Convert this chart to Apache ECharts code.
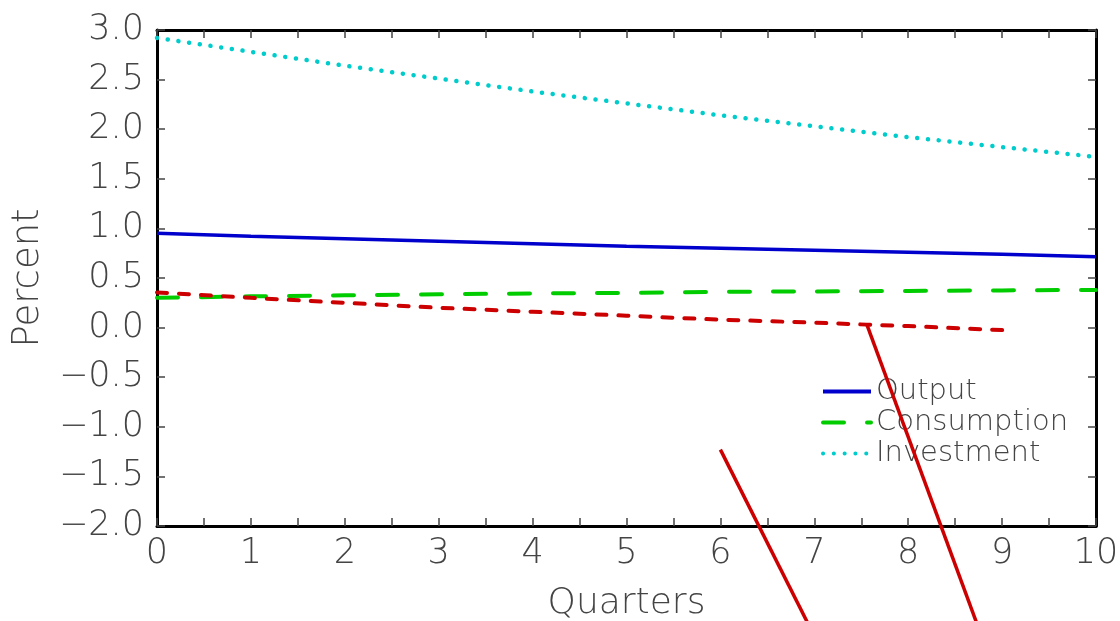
<!DOCTYPE html>
<html>
<head>
<meta charset="utf-8">
<script src="https://cdn.jsdelivr.net/npm/echarts@6/dist/echarts.min.js"></script>
<style>
html,body{margin:0;padding:0;background:#fff;}
#c{width:1120px;height:621px;}
</style>
</head>
<body>
<div id="c"></div>
<script>
const quarters = [0,1,2,3,4,5,6,7,8,9,10];
const output = [0.95,0.92,0.895,0.87,0.845,0.82,0.80,0.78,0.76,0.74,0.715];
const consumption = [0.30,0.315,0.325,0.335,0.345,0.35,0.36,0.365,0.37,0.375,0.38];
const investment = [2.92,2.78,2.64,2.51,2.38,2.26,2.14,2.03,1.92,1.82,1.72];
const redDashX = [0,1,2,3,4,5,6,7,7.56,8,9,9.1];
const redDashY = [0.355,0.30,0.25,0.20,0.16,0.12,0.08,0.05,0.03,0.015,-0.025,-0.03];
const redLineAX = [6.0,7.0];
const redLineAY = [-1.23,-3.11];
const redLineBX = [7.56,8.8];
const redLineBY = [0.03,-3.16];

const pairs = (xs, ys) => xs.map((x,i)=>[x, ys[i]]);
const FONT = 'DejaVu Sans';
const TXT = '#444';
const fmtY = v => (v < 0 ? '\u2212' : '') + Math.abs(v).toFixed(1);

const chart = echarts.init(document.getElementById('c'));
const axisCommon = {
  axisLine:{show:true, onZero:false, lineStyle:{color:'#000', width:3}},
  axisTick:{show:true, inside:true, length:8, lineStyle:{color:'#444', width:1.5}},
  splitLine:{show:false}
};
chart.setOption({
  animation:false,
  backgroundColor:'#fff',
  grid:{left:157, right:24, top:30, bottom:95, containLabel:false, outerBoundsMode:'none'},
  legend:{
    orient:'vertical', left:816, top:372, itemWidth:48, itemHeight:16, itemGap:2,
    itemStyle:{opacity:0},
    lineStyle:{width:4},
    textStyle:{fontFamily:FONT, fontWeight:200, fontSize:29, color:TXT},
    data:['Output','Consumption','Investment']
  },
  xAxis:[{
    type:'value', min:0, max:10, interval:0.5, position:'bottom',
    name:'Quarters', nameLocation:'middle', nameGap:60,
    nameTextStyle:{fontFamily:FONT, fontWeight:200, fontSize:36, color:TXT},
    axisLabel:{fontFamily:FONT, fontWeight:200, fontSize:35, color:TXT, margin:10,
      formatter: v => Number.isInteger(v) ? String(v) : ''},
    ...axisCommon
  },{
    type:'value', min:0, max:10, interval:0.5, position:'top',
    axisLabel:{show:false}, ...axisCommon
  }],
  yAxis:[{
    type:'value', min:-2, max:3, interval:0.5, position:'left',
    name:'Percent', nameLocation:'middle', nameGap:110, nameRotate:90,
    nameTextStyle:{fontFamily:FONT, fontWeight:200, fontSize:37, color:TXT},
    axisLabel:{fontFamily:FONT, fontWeight:200, fontSize:35, color:TXT, margin:13,
      formatter: fmtY},
    ...axisCommon
  },{
    type:'value', min:-2, max:3, interval:0.5, position:'right',
    axisLabel:{show:false}, ...axisCommon
  }],
  series:[
    {name:'Output', type:'line', symbol:'none', data:pairs(quarters, output),
     lineStyle:{color:'#0000cc', width:3.5}, itemStyle:{color:'#0000cc'}, z:3},
    {name:'Consumption', type:'line', symbol:'none', data:pairs(quarters, consumption),
     lineStyle:{color:'#00cc00', width:4, type:[21,23], cap:'round'}, itemStyle:{color:'#00cc00'}, z:3},
    {name:'Investment', type:'line', symbol:'none', data:pairs(quarters, investment),
     lineStyle:{color:'#00cccc', width:4.5, type:[0.1,10.7], cap:'round'}, itemStyle:{color:'#00cccc'}, z:3},
    {name:'red-dash', type:'line', symbol:'none', data:pairs(redDashX, redDashY),
     lineStyle:{color:'#cc0000', width:4, type:[10,12], cap:'round'}, itemStyle:{color:'#cc0000'}, z:4},
    {name:'red-a', type:'line', symbol:'none', clip:false, data:pairs(redLineAX, redLineAY),
     lineStyle:{color:'#cc0000', width:3.5}, itemStyle:{color:'#cc0000'}, z:4},
    {name:'red-b', type:'line', symbol:'none', clip:false, data:pairs(redLineBX, redLineBY),
     lineStyle:{color:'#cc0000', width:3.5}, itemStyle:{color:'#cc0000'}, z:4}
  ]
});
</script>
</body>
</html>
